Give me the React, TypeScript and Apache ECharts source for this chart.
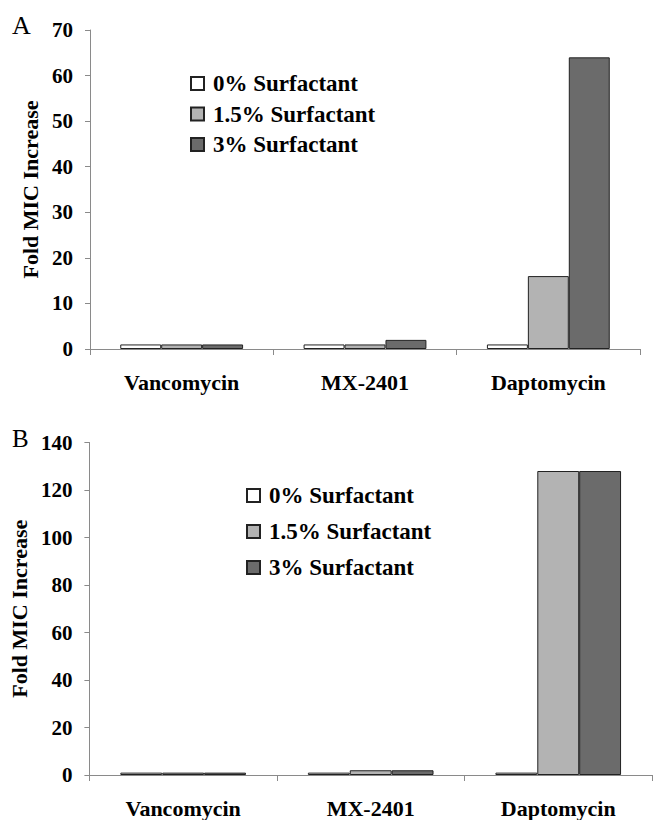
import React, { useEffect, useRef } from "react";
import * as echarts from "echarts";

// Drug categories shared by both panels
const categories = ["Vancomycin", "MX-2401", "Daptomycin"];
const seriesNames = ["0% Surfactant", "1.5% Surfactant", "3% Surfactant"];
const seriesColors = ["#ffffff", "#b3b3b3", "#6b6b6b"];

// Panel A: fold MIC increase
const panelA0 = [1, 1, 1];
const panelA15 = [1, 1, 16];
const panelA3 = [1, 2, 64];

// Panel B: fold MIC increase
const panelB0 = [1, 1, 1];
const panelB15 = [1, 2, 128];
const panelB3 = [1, 2, 128];

const SERIF = '"Liberation Serif", "Times New Roman", serif';

export default function App() {
  const ref = useRef<HTMLDivElement | null>(null);

  useEffect(() => {
    if (!ref.current) return;
    const chart = echarts.init(ref.current, undefined, { renderer: "svg" });

    const axisGrey = "#8a8a8a";
    const boldText = {
      fontFamily: SERIF,
      fontWeight: "bold" as const,
      color: "#000",
    };

    const makeX = (gridIndex: number) => ({
      type: "category" as const,
      gridIndex,
      data: categories,
      axisLine: { lineStyle: { color: axisGrey, width: 1 } },
      axisTick: { show: true, length: 6, lineStyle: { color: axisGrey } },
      axisLabel: { ...boldText, fontSize: 22, margin: 22, interval: 0 },
    });

    const makeY = (gridIndex: number, max: number, interval: number, nameGap: number) => ({
      type: "value" as const,
      gridIndex,
      min: 0,
      max,
      interval,
      name: "Fold MIC Increase",
      nameLocation: "middle" as const,
      nameGap,
      nameTextStyle: { ...boldText, fontSize: 22 },
      splitLine: { show: false },
      axisLine: { show: true, lineStyle: { color: axisGrey, width: 1 } },
      axisTick: { show: true, length: 5, lineStyle: { color: axisGrey } },
      axisLabel: { ...boldText, fontSize: 21, margin: 17 },
    });

    const panelAData = [panelA0, panelA15, panelA3];
    const panelBData = [panelB0, panelB15, panelB3];

    const makeSeries = (data: number[][], axisIndex: number) =>
      data.map((values, i) => ({
        type: "bar" as const,
        name: seriesNames[i],
        xAxisIndex: axisIndex,
        yAxisIndex: axisIndex,
        data: values,
        barGap: "0%",
        barCategoryGap: "33%",
        itemStyle: {
          color: seriesColors[i],
          borderColor: "#222",
          borderWidth: 1,
        },
      }));

    const legendBase = {
      orient: "vertical" as const,
      icon: "rect",
      itemWidth: 13,
      itemHeight: 13,
      padding: 0,
      selectedMode: false as const,
      data: seriesNames,
      textStyle: {
        ...boldText,
        fontSize: 23,
        lineHeight: 22,
        padding: [0, 0, 0, 4],
      },
    };

    chart.setOption({
      animation: false,
      backgroundColor: "#fff",
      grid: [
        { left: 90, top: 30, right: 13, height: 319, containLabel: false },
        { left: 89, top: 442.5, right: 1, height: 332.5, containLabel: false },
      ],
      xAxis: [makeX(0), makeX(1)],
      yAxis: [makeY(0, 70, 10, 47), makeY(1, 140, 20, 57)],
      legend: [
        { ...legendBase, left: 190, top: 72, itemGap: 7.5 },
        { ...legendBase, left: 246, top: 484, itemGap: 13 },
      ],
      series: [...makeSeries(panelAData, 0), ...makeSeries(panelBData, 1)],
      graphic: [
        {
          type: "text",
          left: 12,
          top: 12,
          style: { text: "A", fontFamily: SERIF, fontSize: 26, fill: "#000" },
        },
        {
          type: "text",
          left: 12,
          top: 426,
          style: { text: "B", fontFamily: SERIF, fontSize: 25, fill: "#000" },
        },
      ],
    });

    return () => chart.dispose();
  }, []);

  return (
    <div
      ref={ref}
      style={{ position: "fixed", left: 0, top: 0, width: 653, height: 820 }}
    />
  );
}
